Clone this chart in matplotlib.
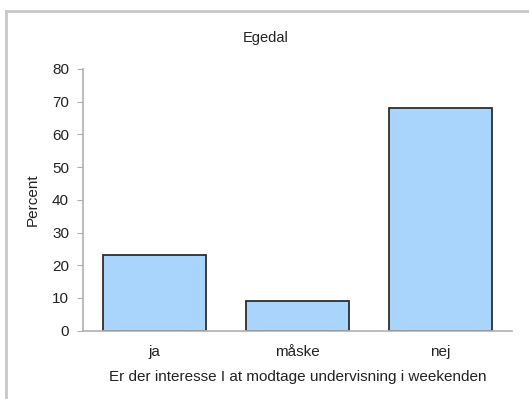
import matplotlib
matplotlib.use("Agg")
import matplotlib.pyplot as plt
from matplotlib.lines import Line2D

categories = ["ja", "måske", "nej"]
values = [23, 9, 68]
yticks = [0, 10, 20, 30, 40, 50, 60, 70, 80]

plt.rcParams['font.family'] = ['Liberation Sans', 'DejaVu Sans']

fig = plt.figure(figsize=(5.29, 3.99), dpi=100)
W, H = 529, 399
ax = fig.add_axes([83 / W, 1 - 330.7 / H, (512 - 83) / W, (330.7 - 69) / H])

x = range(len(categories))
ax.bar(x, values, width=0.72, color="#a9d5fc", edgecolor="#2e2e2e", linewidth=1.3)
ax.set_xlim(-0.5, 2.5)
ax.set_ylim(0, 80)
ax.set_yticks(yticks)
ax.set_xticks(list(x))
ax.set_xticklabels(categories)

for s in ["top", "right"]:
    ax.spines[s].set_visible(False)
for s in ["left", "bottom"]:
    ax.spines[s].set_color("#b0b0b0")
    ax.spines[s].set_linewidth(1.2)

ax.tick_params(axis="y", length=4, color="#b0b0b0", labelsize=11, pad=6, labelcolor="#222222")
ax.tick_params(axis="x", length=0, labelsize=11, pad=10, labelcolor="#222222")

ax.set_ylabel("Percent", fontsize=11, color="#222222")
ax.yaxis.set_label_coords((40 - 83) / (512 - 83), 0.5)
ax.set_xlabel("Er der interesse I at modtage undervisning i weekenden", fontsize=11, labelpad=8, color="#222222")
fig.text(266 / W, 1 - 38 / H, "Egedal", ha="center", va="center", fontsize=10.5, color="#222222")

# outer chart frame (partially cut off)
fig.add_artist(Line2D([6 / W, 6 / W], [1 - 11 / H, 0], transform=fig.transFigure, color="#c8c8c8", lw=2))
fig.add_artist(Line2D([6 / W, 1], [1 - 11 / H, 1 - 11 / H], transform=fig.transFigure, color="#c8c8c8", lw=2))

fig.savefig("out.png", dpi=100)
